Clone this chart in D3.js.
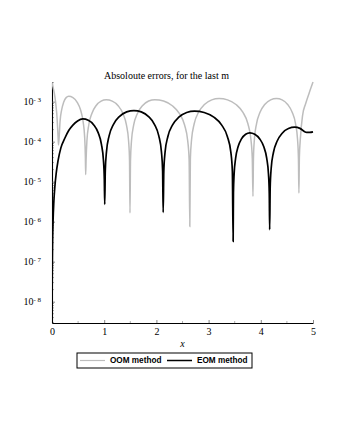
<!DOCTYPE html>
<html>
<head>
<meta charset="utf-8">
<script src="https://cdn.jsdelivr.net/npm/d3@7"></script>
<style>
  body { margin: 0; background: #fff; }
  svg { display: block; }
</style>
</head>
<body>
<script>
// values
const oomX = [0, 0.02, 0.045, 0.07, 0.09, 0.107, 0.118, 0.125,
  0.137, 0.154, 0.184, 0.223, 0.271, 0.32, 0.401, 0.483, 0.548, 0.596, 0.626, 0.639, 0.645,
  0.653, 0.669, 0.704, 0.764, 0.843, 0.941, 1.04, 1.154, 1.267, 1.358, 1.426, 1.467, 1.485, 1.494,
  1.504, 1.523, 1.565, 1.637, 1.732, 1.851, 1.97, 2.138, 2.305, 2.439, 2.54, 2.6, 2.627, 2.64,
  2.651, 2.674, 2.724, 2.808, 2.92, 3.06, 3.2, 3.363, 3.525, 3.655, 3.753, 3.811, 3.837, 3.85,
  3.859, 3.877, 3.918, 3.985, 4.075, 4.188, 4.3, 4.408, 4.515, 4.601, 4.666, 4.704, 4.721, 4.73,
  4.739, 4.76, 4.8, 4.86, 4.93, 5];
const oomErr = [3.0e-3, 2.3e-3, 1.6e-3, 9.5e-4, 5.2e-4, 2.3e-4, 1.2e-4, 8.3e-5,
  1.28e-4, 3.17e-4, 6.17e-4, 9.6e-4, 1.26e-3, 1.36e-3, 1.26e-3, 9.6e-4, 6.17e-4, 3.17e-4, 1.28e-4, 4.3e-5, 1.5e-5,
  3.5e-5, 1.05e-4, 2.61e-4, 5.08e-4, 7.92e-4, 1.035e-3, 1.12e-3, 1.035e-3, 7.92e-4, 5.08e-4, 2.61e-4, 1.05e-4, 3.5e-5, 1.65e-6,
  3.5e-5, 1.05e-4, 2.61e-4, 5.08e-4, 7.92e-4, 1.035e-3, 1.12e-3, 1.035e-3, 7.92e-4, 5.08e-4, 2.61e-4, 1.05e-4, 3.5e-5, 7.6e-7,
  3.77e-5, 1.13e-4, 2.8e-4, 5.45e-4, 8.48e-4, 1.109e-3, 1.2e-3, 1.109e-3, 8.48e-4, 5.45e-4, 2.8e-4, 1.13e-4, 3.77e-5, 4.3e-6,
  3.77e-5, 1.13e-4, 2.8e-4, 5.45e-4, 8.48e-4, 1.109e-3, 1.2e-3, 1.109e-3, 8.48e-4, 5.45e-4, 2.8e-4, 1.13e-4, 3.77e-5, 5.2e-6,
  4e-5, 1.3e-4, 4.5e-4, 9e-4, 1.7e-3, 3.1e-3];

const eomX = [0, 0.002, 0.005, 0.01, 0.02, 0.035, 0.055, 0.08, 0.115, 0.17, 0.243, 0.32, 0.4, 0.49, 0.59,
  0.695, 0.8, 0.884, 0.947, 0.985, 1.002, 1.01,
  1.021, 1.044, 1.094, 1.178, 1.29, 1.43, 1.57, 1.71, 1.85, 1.962, 2.046, 2.096, 2.119, 2.13,
  2.142, 2.166, 2.22, 2.31, 2.43, 2.58, 2.73, 2.915, 3.1, 3.248, 3.359, 3.426, 3.455, 3.47,
  3.476, 3.489, 3.518, 3.566, 3.63, 3.71, 3.79, 3.885, 3.98, 4.056, 4.113, 4.147, 4.162, 4.17,
  4.18, 4.199, 4.242, 4.314, 4.41, 4.53, 4.65, 4.75, 4.82, 4.88, 4.94, 5];
const eomErr = [3e-9, 1e-8, 6e-8, 2.5e-7, 1e-6, 3.1e-6, 7.5e-6, 1.6e-5, 3.3e-5, 7e-5, 1.2e-4, 1.9e-4, 2.6e-4, 3.3e-4, 3.7e-4,
  3.42e-4, 2.62e-4, 1.68e-4, 8.6e-5, 3.48e-5, 1.16e-5, 2.7e-6,
  1.88e-5, 5.65e-5, 1.4e-4, 2.72e-4, 4.24e-4, 5.54e-4, 6e-4, 5.54e-4, 4.24e-4, 2.72e-4, 1.4e-4, 5.65e-5, 1.88e-5, 1.7e-6,
  1.82e-5, 5.46e-5, 1.35e-4, 2.63e-4, 4.1e-4, 5.36e-4, 5.8e-4, 5.36e-4, 4.1e-4, 2.63e-4, 1.35e-4, 5.46e-5, 1.82e-5, 3.2e-7,
  5.2e-6, 1.56e-5, 3.87e-5, 7.54e-5, 1.17e-4, 1.53e-4, 1.66e-4, 1.53e-4, 1.17e-4, 7.54e-5, 3.87e-5, 1.56e-5, 5.2e-6, 6.3e-7,
  7.2e-6, 2.16e-5, 5.36e-5, 1.04e-4, 1.63e-4, 2.13e-4, 2.3e-4, 2.15e-4, 1.85e-4, 1.7e-4, 1.7e-4, 1.75e-4];

const xTicks = [0, 1, 2, 3, 4, 5];
const xMinor = [0.5, 1.5, 2.5, 3.5, 4.5];
const yExponents = [-8, -7, -6, -5, -4, -3];
const seriesNames = ["OOM method", "EOM method"];
const seriesColors = ["#bdbdbd", "#000000"];

var width = 340, height = 440;
var margin = {top: 82, left: 52, right: 27, bottom: 117};
var plotW = width - margin.left - margin.right,
    plotH = height - margin.top - margin.bottom;

var svg = d3.select("body").append("svg")
  .attr("width", width)
  .attr("height", height);

var g = svg.append("g")
  .attr("transform", "translate(" + margin.left + "," + margin.top + ")");

var x = d3.scaleLinear().domain([0, 5]).range([0, plotW]);
var y = d3.scaleLog().domain([2.93e-9, 3.1e-3]).range([plotH, 0]);

g.append("clipPath").attr("id", "clip")
  .append("rect").attr("x", 0).attr("y", -2).attr("width", plotW + 2).attr("height", plotH + 2);

// minor ticks on the log axis
var yMinor = [];
for (var e = -9; e <= -3; e++) {
  for (var k = 2; k <= 9; k++) {
    var v = k * Math.pow(10, e);
    if (v > y.domain()[0] && v < y.domain()[1]) yMinor.push(v);
  }
}
g.selectAll(".yminor").data(yMinor).enter().append("line")
  .attr("x1", 0).attr("x2", 2)
  .attr("y1", d => y(d)).attr("y2", d => y(d))
  .attr("stroke", "#777").attr("stroke-width", 0.6);

g.selectAll(".xminor").data(xMinor).enter().append("line")
  .attr("x1", d => x(d)).attr("x2", d => x(d))
  .attr("y1", plotH).attr("y2", plotH - 2)
  .attr("stroke", "#777").attr("stroke-width", 0.6);

// axes
var xAxis = g.append("g")
  .attr("transform", "translate(0," + plotH + ")")
  .call(d3.axisBottom(x).tickValues(xTicks).tickSizeInner(-3).tickSizeOuter(0).tickPadding(5).tickFormat(d3.format("d")));

var yAxis = g.append("g")
  .call(d3.axisLeft(y).tickValues(yExponents.map(p => Math.pow(10, p)))
    .tickSizeInner(-3).tickSizeOuter(0).tickPadding(11).tickFormat(""));

[xAxis, yAxis].forEach(function(a) {
  a.select(".domain").attr("stroke", "#000").attr("stroke-width", 1.1);
  a.selectAll(".tick line").attr("stroke", "#555").attr("stroke-width", 0.7);
  a.selectAll(".tick text")
    .attr("fill", "#000")
    .style("font-family", "'Liberation Serif', 'Times New Roman', serif")
    .style("font-size", "10px");
});

yAxis.selectAll(".tick text").each(function(d, i) {
  var t = d3.select(this);
  t.text(null);
  t.append("tspan").text("10");
  t.append("tspan").attr("dy", "-0.45em").style("font-size", "7px")
    .text("- " + Math.abs(Math.round(Math.log10(d))));
});

// series lines
var line = d3.line()
  .x(d => x(d[0]))
  .y(d => y(d[1]))
  .curve(d3.curveMonotoneX);

var lines = g.append("g").attr("clip-path", "url(#clip)");
lines.append("path")
  .datum(d3.zip(oomX, oomErr))
  .attr("fill", "none")
  .attr("stroke", seriesColors[0])
  .attr("stroke-width", 1.5)
  .attr("d", line);
lines.append("path")
  .datum(d3.zip(eomX, eomErr))
  .attr("fill", "none")
  .attr("stroke", seriesColors[1])
  .attr("stroke-width", 1.7)
  .attr("d", line);

// title and axis label
svg.append("text")
  .attr("x", 166.5).attr("y", 79)
  .attr("text-anchor", "middle")
  .style("font-family", "'Liberation Serif', 'Times New Roman', serif")
  .style("font-size", "10px")
  .text("Absoloute errors, for the last m");

svg.append("text")
  .attr("x", margin.left + plotW / 2).attr("y", 347)
  .attr("text-anchor", "middle")
  .style("font-family", "'Liberation Serif', 'Times New Roman', serif")
  .style("font-style", "italic")
  .style("font-size", "10px")
  .text("x");

// legend
var legend = svg.append("g").attr("transform", "translate(77,353)");
legend.append("rect")
  .attr("width", 175).attr("height", 15)
  .attr("fill", "#fff").attr("stroke", "#000").attr("stroke-width", 1);

var items = legend.selectAll(".legend")
  .data(seriesNames)
  .enter().append("g")
  .attr("transform", (d, i) => "translate(" + (3 + i * 87) + ",0)");
items.append("line")
  .attr("x1", 0).attr("x2", 25)
  .attr("y1", 7.5).attr("y2", 7.5)
  .attr("stroke", (d, i) => seriesColors[i])
  .attr("stroke-width", (d, i) => i ? 1.5 : 1.2);
items.append("text")
  .attr("x", 30).attr("y", 7.5)
  .attr("dy", "0.35em")
  .style("font-family", "'Liberation Sans', Arial, sans-serif")
  .style("font-weight", "bold")
  .style("font-size", "8.2px")
  .text(d => d);
</script>
</body>
</html>
